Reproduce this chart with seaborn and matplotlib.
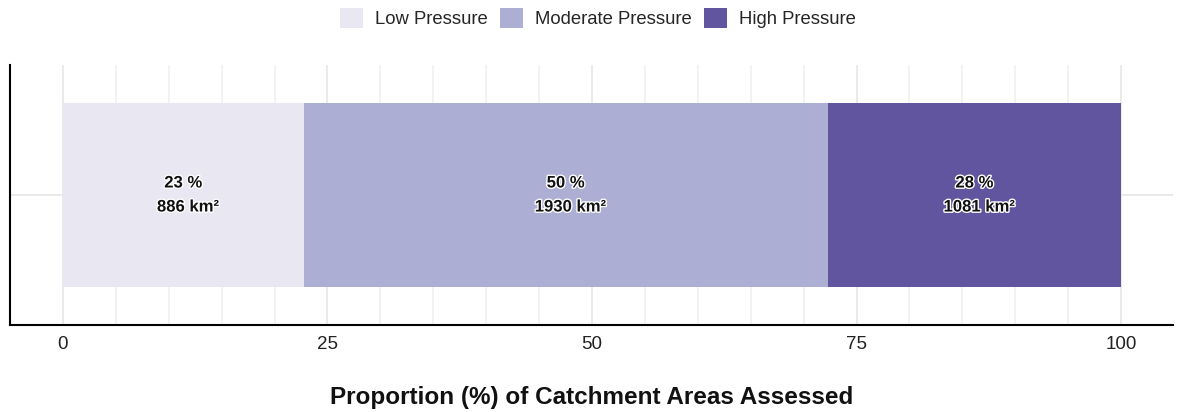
import matplotlib
matplotlib.use("Agg")
import matplotlib.pyplot as plt
import matplotlib.patheffects as pe
from matplotlib.patches import Patch
import pandas as pd
import seaborn as sns

# data
categories = ["Low Pressure", "Moderate Pressure", "High Pressure"]
areas_km2 = [886, 1930, 1081]
colors = ["#e9e7f1", "#adaed3", "#62559f"]

total = sum(areas_km2)
pcts = [a / total * 100 for a in areas_km2]
starts = [sum(pcts[:i]) for i in range(len(pcts))]
ends = [s + p for s, p in zip(starts, pcts)]

sns.set_theme(style="white")
plt.rcParams["font.family"] = ["Liberation Sans", "DejaVu Sans"]

fig = plt.figure(figsize=(11.8, 4.12), dpi=100)
ax = fig.add_axes([10 / 1180, 1 - 325 / 412, 1163 / 1180, 260 / 412])

df = pd.DataFrame({"group": [""] * 3, "cat": categories, "end": ends, "start": starts})

# draw cumulative bars from the outermost inward so each segment shows
for i in reversed(range(len(categories))):
    sns.barplot(data=df.iloc[[i]], x="end", y="group", orient="h",
                color=colors[i], width=0.71, ax=ax, zorder=2,
                saturation=1, edgecolor="none", linewidth=0)

for s, p, a in zip(starts, pcts, areas_km2):
    ax.text(s + p / 2, 0, f"{p:.0f} %\n  {a} km²", ha="center", va="center",
            fontsize=12, fontweight="bold", color="#111111",
            linespacing=1.75, zorder=3,
            path_effects=[pe.withStroke(linewidth=2, foreground="white")])

ax.set_xlim(-5, 104.9)
ax.set_ylim(0.5, -0.5)

# grid
for v in range(0, 101, 5):
    ax.axvline(v, color="#e6e6e6" if v % 25 == 0 else "#f0f0f0",
               lw=1.2, zorder=0)
ax.axhline(0, color="#e6e6e6", lw=1.2, zorder=0)

ax.set_xticks([0, 25, 50, 75, 100])
ax.set_xticklabels(["0", "25", "50", "75", "100"], fontsize=13.5, color="#222222")
ax.tick_params(axis="x", length=0, pad=8)
ax.set_yticks([])
ax.set_ylabel("")
ax.set_xlabel("Proportion (%) of Catchment Areas Assessed", fontsize=17.5,
              fontweight="bold", labelpad=24, color="#111111")

for side in ["top", "right"]:
    ax.spines[side].set_visible(False)
for side in ["left", "bottom"]:
    ax.spines[side].set_color("black")
    ax.spines[side].set_linewidth(1.5)

handles = [Patch(facecolor=c, edgecolor="none") for c in colors]
fig.legend(handles, categories, loc="center",
           bbox_to_anchor=(598 / 1180, 1 - 18 / 412),
           ncol=3, frameon=False, fontsize=13.3, handlelength=1.25,
           handleheight=1.25, handletextpad=0.65, columnspacing=0.65)

fig.savefig("out.png", dpi=100)
